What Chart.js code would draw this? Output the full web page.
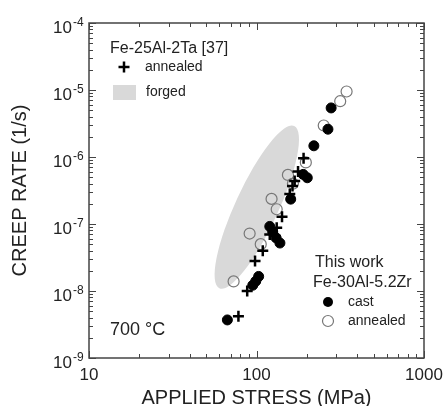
<!DOCTYPE html>
<html>
<head>
<meta charset="utf-8">
<script src="https://cdn.jsdelivr.net/npm/chart.js@4.4.0/dist/chart.umd.min.js"></script>
<style>
  html, body { margin: 0; padding: 0; background: #fff; }
  #wrap { width: 444px; height: 406px; }
</style>
</head>
<body>
<div id="wrap"><canvas id="creep"></canvas></div>
<script>
// this work, Fe-30Al-5.2Zr cast (filled circles)
var castStress = [67, 95, 99, 103, 120, 125, 131, 138, 160, 190, 201, 220, 267, 279];
var castRate = [3.7e-9, 1.22e-8, 1.4e-8, 1.65e-8, 9.2e-8, 7.6e-8, 6.2e-8, 5.2e-8, 2.35e-7, 5.5e-7, 4.9e-7, 1.47e-6, 2.6e-6, 5.4e-6];

// this work, Fe-30Al-5.2Zr annealed (open circles)
var annStress = [73, 91, 106, 123, 132, 154, 165, 197, 252, 316, 345];
var annRate = [1.39e-8, 7.2e-8, 5.0e-8, 2.37e-7, 1.66e-7, 5.4e-7, 4.0e-7, 8.3e-7, 2.95e-6, 6.8e-6, 9.5e-6];

// Fe-25Al-2Ta [37] annealed (crosses)
var taStress = [78, 88, 98, 109, 120, 132, 142, 158, 164, 169, 177, 191];
var taRate = [4.2e-9, 1.0e-8, 2.8e-8, 4.0e-8, 7.0e-8, 8.8e-8, 1.28e-7, 2.8e-7, 3.7e-7, 4.4e-7, 6.1e-7, 9.6e-7];

// Fe-25Al-2Ta [37] forged: ends of the long axis of the grey band
var forgedEnds = [[60, 1.1e-8], [168, 2.9e-6]];

var xTickValues = [10, 100, 1000];
var xTickLabels = ['10', '100', '1000'];
var yTickValues = [1e-9, 1e-8, 1e-7, 1e-6, 1e-5, 1e-4];
var yTickExp = ['-9', '-8', '-7', '-6', '-5', '-4'];

var FONT = '"Liberation Sans", Arial, sans-serif';
var INK = '#222';

function toPoints(xs, ys) {
    return xs.map(function (x, i) { return { x: x, y: ys[i] }; });
}

var decor = {
    id: 'decor',
    beforeDatasetsDraw: function (chart) {
        var ctx = chart.ctx, sx = chart.scales.x, sy = chart.scales.y;
        var x1 = sx.getPixelForValue(forgedEnds[0][0]), y1 = sy.getPixelForValue(forgedEnds[0][1]);
        var x2 = sx.getPixelForValue(forgedEnds[1][0]), y2 = sy.getPixelForValue(forgedEnds[1][1]);
        var a = Math.hypot(x2 - x1, y2 - y1) / 2;
        ctx.save();
        ctx.fillStyle = '#d9d9d9';
        ctx.beginPath();
        ctx.ellipse((x1 + x2) / 2, (y1 + y2) / 2, a, a * 0.24, Math.atan2(y2 - y1, x2 - x1), 0, 2 * Math.PI);
        ctx.fill();
        ctx.restore();
    },
    afterDraw: function (chart) {
        var ctx = chart.ctx, sx = chart.scales.x, sy = chart.scales.y;
        var area = chart.chartArea;
        var i, k, p;
        ctx.save();

        // frame
        ctx.strokeStyle = '#444';
        ctx.lineWidth = 1.5;
        ctx.strokeRect(area.left, area.top, area.right - area.left, area.bottom - area.top);

        // inward ticks on all four sides
        ctx.lineWidth = 1;
        ctx.beginPath();
        for (i = 0; i < xTickValues.length; i++) {
            for (k = 1; k <= 9; k++) {
                if (k > 1 && i === xTickValues.length - 1) break;
                p = Math.round(sx.getPixelForValue(xTickValues[i] * k)) + 0.5;
                var lx = k === 1 ? 7 : 4;
                ctx.moveTo(p, area.bottom); ctx.lineTo(p, area.bottom - lx);
                ctx.moveTo(p, area.top); ctx.lineTo(p, area.top + lx);
            }
        }
        for (i = 0; i < yTickValues.length; i++) {
            for (k = 1; k <= 9; k++) {
                if (k > 1 && i === yTickValues.length - 1) break;
                p = Math.round(sy.getPixelForValue(yTickValues[i] * k)) + 0.5;
                var ly = k === 1 ? 7 : 4;
                ctx.moveTo(area.left, p); ctx.lineTo(area.left + ly, p);
                ctx.moveTo(area.right, p); ctx.lineTo(area.right - ly, p);
            }
        }
        ctx.stroke();

        // tick labels
        ctx.fillStyle = INK;
        ctx.textBaseline = 'alphabetic';
        ctx.font = '17px ' + FONT;
        ctx.textAlign = 'center';
        for (i = 0; i < xTickValues.length; i++) {
            ctx.fillText(xTickLabels[i], sx.getPixelForValue(xTickValues[i]), area.bottom + 22);
        }
        for (i = 0; i < yTickValues.length; i++) {
            p = sy.getPixelForValue(yTickValues[i]);
            ctx.font = '17px ' + FONT;
            ctx.textAlign = 'right';
            ctx.fillText('10', area.left - 17, p + 10);
            ctx.font = '12px ' + FONT;
            ctx.textAlign = 'left';
            ctx.fillText(yTickExp[i], area.left - 16, p + 2.5);
        }

        // annotations and legend
        ctx.textBaseline = 'middle';
        ctx.textAlign = 'left';
        ctx.font = '16px ' + FONT;
        ctx.fillText('Fe-25Al-2Ta [37]', 110, 49);
        ctx.font = '14px ' + FONT;
        ctx.fillText('annealed', 145, 67);
        ctx.fillText('forged', 146, 92);
        ctx.fillStyle = '#d9d9d9';
        ctx.fillRect(113, 85, 23, 15);
        ctx.strokeStyle = '#000';
        ctx.lineWidth = 2.5;
        ctx.beginPath();
        ctx.moveTo(118.5, 67); ctx.lineTo(129.5, 67);
        ctx.moveTo(124, 61.5); ctx.lineTo(124, 72.5);
        ctx.stroke();

        ctx.fillStyle = INK;
        ctx.font = '16px ' + FONT;
        ctx.fillText('This work', 315, 263);
        ctx.fillText('Fe-30Al-5.2Zr', 313, 283);
        ctx.font = '14px ' + FONT;
        ctx.fillText('cast', 348, 302);
        ctx.fillText('annealed', 348, 321);
        ctx.fillStyle = '#000';
        ctx.beginPath();
        ctx.arc(328, 302, 5, 0, 2 * Math.PI);
        ctx.fill();
        ctx.strokeStyle = '#777';
        ctx.lineWidth = 1.2;
        ctx.beginPath();
        ctx.arc(328, 321, 5.5, 0, 2 * Math.PI);
        ctx.stroke();

        ctx.fillStyle = INK;
        ctx.font = '18px ' + FONT;
        ctx.fillText('700 \u00b0C', 110, 330);
        ctx.restore();
    }
};

var ctx1 = document.getElementById('creep');

var chart1 = new Chart(ctx1, {
    type: 'scatter',
    data: {
        datasets: [
            {
                label: 'Fe-25Al-2Ta annealed',
                data: toPoints(taStress, taRate),
                pointStyle: 'cross',
                pointRadius: 5.5,
                borderColor: '#000',
                borderWidth: 2.5,
                order: 0
            },
            {
                label: 'cast',
                data: toPoints(castStress, castRate),
                pointStyle: 'circle',
                pointRadius: 5,
                backgroundColor: '#000',
                borderColor: '#000',
                borderWidth: 1,
                order: 1
            },
            {
                label: 'annealed',
                data: toPoints(annStress, annRate),
                pointStyle: 'circle',
                pointRadius: 5.5,
                backgroundColor: 'rgba(255,255,255,0)',
                borderColor: '#777',
                borderWidth: 1.2,
                order: 2
            }
        ]
    },
    options: {
        responsive: true,
        maintainAspectRatio: false,
        animation: false,
        layout: { padding: { top: 23, right: 20, left: 0, bottom: 0 } },
        plugins: {
            legend: { display: false },
            tooltip: { enabled: false }
        },
        scales: {
            x: {
                type: 'logarithmic',
                min: 10,
                max: 1000,
                grid: { display: false },
                border: { display: false },
                ticks: { display: false },
                title: {
                    display: true,
                    text: 'APPLIED STRESS (MPa)',
                    color: INK,
                    font: { family: FONT, size: 20 },
                    padding: { top: 0, bottom: -4 }
                },
                afterFit: function (s) { s.height = 48; }
            },
            y: {
                type: 'logarithmic',
                min: 1e-9,
                max: 1e-4,
                grid: { display: false },
                border: { display: false },
                ticks: { display: false },
                title: {
                    display: true,
                    text: 'CREEP RATE (1/s)',
                    color: INK,
                    font: { family: FONT, size: 20 },
                    padding: { top: 8, bottom: 0 }
                },
                afterFit: function (s) { s.width = 89; }
            }
        }
    },
    plugins: [decor]
});
</script>
</body>
</html>
